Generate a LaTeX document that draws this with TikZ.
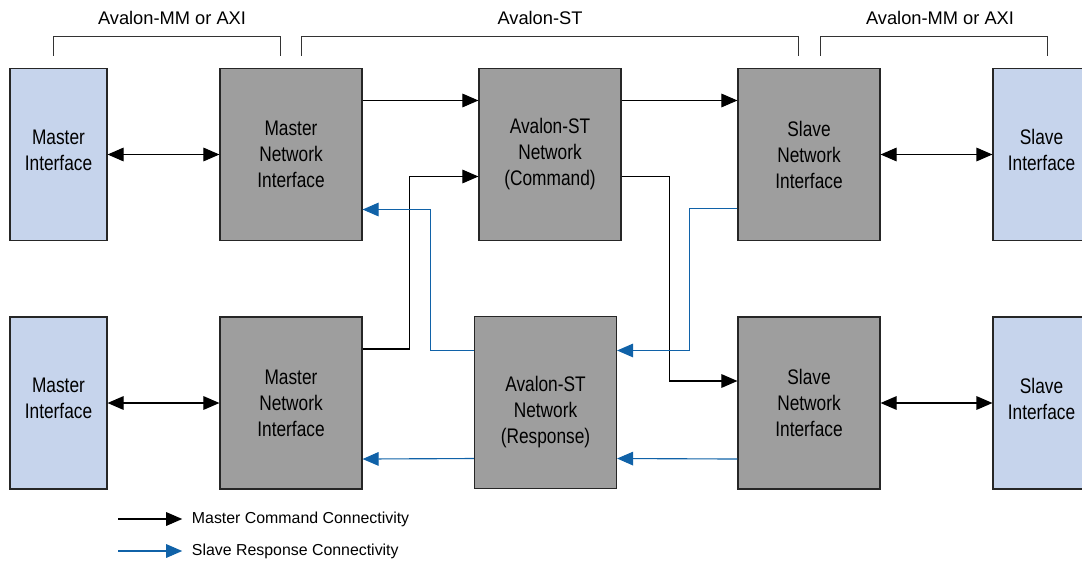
\documentclass[tikz,border=0pt]{standalone}
\usepackage{fontspec}
\setmainfont{Liberation Sans}[FakeStretch=0.82]
\newfontfamily\widesans{Liberation Sans}
\usetikzlibrary{arrows.meta}

\definecolor{ifblue}{RGB}{198,212,236}
\definecolor{nigrey}{RGB}{158,158,158}
\definecolor{rspblue}{RGB}{16,98,168}

\tikzset{
  box/.style={draw=black!85, line width=0.8pt, align=center, font=\fontsize{15}{18.5}\selectfont,
              inner sep=0pt, minimum height=4.3cm},
  ifbox/.style={box, fill=ifblue, minimum width=2.425cm, text depth=0.22cm},
  nibox/.style={box, fill=nigrey, minimum width=3.55cm},
  boxtext/.style={align=center, font=\fontsize{15}{18.5}\selectfont, inner sep=0pt},
  tip/.style={-{Triangle[length=0.4cm,width=0.34cm]}},
  cmdline/.style={tip, line width=0.8pt, black},
  rspline/.style={tip, line width=0.8pt, rspblue},
  bidir/.style={{Triangle[length=0.4cm,width=0.34cm]}-{Triangle[length=0.4cm,width=0.34cm]}, line width=0.8pt},
  toplabel/.style={font=\widesans\fontsize{13}{15}\selectfont},
  legendtext/.style={font=\widesans\fontsize{11.3}{13}\selectfont, anchor=west}
}

\begin{document}
\begin{tikzpicture}[x=0.025cm, y=-0.025cm]
            \useasboundingbox (0,0) rectangle (1082,565);
            \clip (0,0) rectangle (1082,565);

            % interface brackets
            \draw[line width=0.7pt, black!80] (53,56) |- (280,36) -- (280,56);
            \draw[line width=0.7pt, black!80] (301,56) |- (798,36) -- (798,56);
            \draw[line width=0.7pt, black!80] (820,56) |- (1047,36) -- (1047,56);
            \node[toplabel] (lbl1) at (172,18) {Avalon-MM or AXI};
            \node[toplabel] (lbl2) at (540,18) {Avalon-ST};
            \node[toplabel] (lbl3) at (940,18) {Avalon-MM or AXI};

            % blocks
            \node[ifbox] (mi1) at (58.5,154.5) {Master\\Interface};
            \node[ifbox] (mi2) at (58.5,403) {Master\\Interface};
            \node[nibox] (mni1) at (291,154.5) {Master\\Network\\Interface};
            \node[nibox] (mni2) at (291,403) {Master\\Network\\Interface};
            \node[nibox] (stc) at (550,154.5) {Avalon-ST\\Network\\(Command)};
            \node[nibox] (str) at (545.5,402.5) {};
            \node[boxtext] (strtxt) at ([yshift=-0.25cm]str.center) {Avalon-ST\\Network\\(Response)};
            \node[nibox] (sni1) at (809,154.5) {Slave\\Network\\Interface};
            \node[nibox] (sni2) at (809,403) {Slave\\Network\\Interface};
            \node[ifbox] (si1) at (1041.5,154.5) {Slave\\Interface};
            \node[ifbox] (si2) at (1041.5,403) {Slave\\Interface};

            % master / slave side
            \draw[bidir] (mi1) -- (mni1);
            \draw[bidir] (mi2) -- (mni2);
            \draw[bidir] (sni1) -- (si1);
            \draw[bidir] (sni2) -- (si2);

            % command path
            \draw[cmdline] ([yshift=1.35cm]mni1.east) -- ([yshift=1.35cm]stc.west);
            \draw[cmdline] ([yshift=1.35cm]stc.east) -- ([yshift=1.35cm]sni1.west);
            \draw[cmdline] ([yshift=1.35cm]mni2.east) -- ++(47,0) |- ([yshift=-0.55cm]stc.west);
            \draw[cmdline] ([yshift=-0.55cm]stc.east) -- ++(48,0) |- ([yshift=0.55cm]sni2.west);

            % response path
            \draw[rspline] ([yshift=-1.35cm]sni1.west) -- ++(-48,0) |- ([yshift=1.3cm]str.east);
            \draw[rspline] ([yshift=1.3cm]str.west) -- ++(-43,0) |- ([yshift=-1.375cm]mni1.east);
            \draw[rspline] ([yshift=-1.4cm]sni2.west) -- ([yshift=-1.4cm]str.east);
            \draw[rspline] ([yshift=-1.4cm]str.west) -- ([yshift=-1.4cm]mni2.east);

            % legend
            \coordinate (leg1) at (118,519);
            \coordinate (leg2) at (118,551);
            \node[legendtext] (legtxt1) at (187,519) {Master Command Connectivity};
            \node[legendtext] (legtxt2) at (187,551) {Slave Response Connectivity};
            \draw[cmdline, shorten >=0.12cm] (leg1) -- (legtxt1.west);
            \draw[rspline, shorten >=0.12cm] (leg2) -- (legtxt2.west);
        \end{tikzpicture}
\end{document}
